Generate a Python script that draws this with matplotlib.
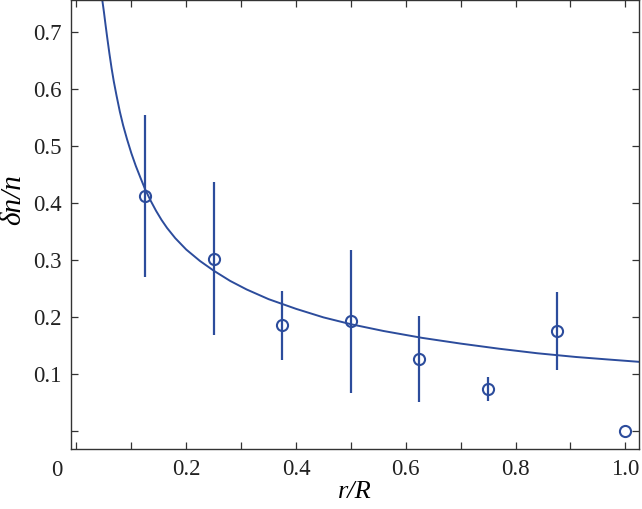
import matplotlib.pyplot as plt
from matplotlib.ticker import MultipleLocator
import matplotlib.transforms as mtransforms

# fit curve
curve_x = [0.047, 0.050, 0.053, 0.056, 0.060, 0.064, 0.068, 0.073, 0.079,
           0.085, 0.092, 0.100, 0.108, 0.117, 0.125, 0.135, 0.145, 0.155,
           0.165, 0.18, 0.20, 0.225, 0.25, 0.28, 0.31, 0.35, 0.40, 0.45,
           0.50, 0.56, 0.63, 0.70, 0.77, 0.84, 0.91, 0.97, 1.025]
curve_y = [0.756, 0.735, 0.712, 0.690, 0.662, 0.636, 0.613, 0.588, 0.560,
           0.536, 0.512, 0.487, 0.465, 0.443, 0.424, 0.404, 0.386, 0.370,
           0.356, 0.338, 0.318, 0.298, 0.281, 0.263, 0.248, 0.231, 0.214,
           0.199, 0.187, 0.175, 0.163, 0.153, 0.144, 0.136, 0.1295, 0.125,
           0.121]

# measured points with error bars
r_pts = [0.125, 0.25, 0.375, 0.5, 0.625, 0.75, 0.875, 1.0]
dn_pts = [0.412, 0.302, 0.185, 0.192, 0.126, 0.074, 0.175, 0.0]
dn_err = [0.142, 0.134, 0.060, 0.125, 0.076, 0.021, 0.068, 0.0]

x_ticks = [0.2, 0.4, 0.6, 0.8, 1.0]
x_ticklabels = ["0.2", "0.4", "0.6", "0.8", "1.0"]
y_ticks = [0.1, 0.2, 0.3, 0.4, 0.5, 0.6, 0.7]
y_ticklabels = ["0.1", "0.2", "0.3", "0.4", "0.5", "0.6", "0.7"]

BLUE = "#2c4c9c"
plt.rcParams["font.family"] = ["Liberation Serif", "DejaVu Serif"]

fig = plt.figure(figsize=(6.42, 5.09), dpi=100)
ax = fig.add_axes([71 / 642, 1 - 449 / 509, 568 / 642, 449 / 509])

ax.plot(curve_x, curve_y, color=BLUE, lw=1.4, zorder=2)
ax.errorbar(r_pts, dn_pts, yerr=dn_err, fmt="o", ms=8, mfc="none",
            mec=BLUE, mew=1.5, ecolor=BLUE, elinewidth=1.6, capsize=0,
            zorder=3)

ax.set_xlim(-0.01, 1.025)
ax.set_ylim(-0.032, 0.756)

ax.set_xticks(x_ticks)
ax.set_xticklabels(x_ticklabels)
ax.xaxis.set_minor_locator(MultipleLocator(0.1))
ax.set_yticks(y_ticks)
ax.set_yticklabels(y_ticklabels)
ax.yaxis.set_minor_locator(MultipleLocator(0.1))

for which in ("major", "minor"):
    ax.tick_params(which=which, direction="in", length=5, width=0.9,
                   top=True, right=True, color="#333333")
ax.tick_params(which="major", labelsize=16.5, pad=7, labelcolor="#222222")

for sp in ax.spines.values():
    sp.set_linewidth(1.0)
    sp.set_color("#333333")

# origin label sits left of the first tick
trans = mtransforms.blended_transform_factory(ax.transData, ax.transAxes)
ax.text(-0.036, -0.047, "0", transform=trans, ha="center", va="center",
        fontsize=16.5, color="#222222")

ax.set_xlabel("r/R", fontsize=19, style="italic", labelpad=1)
ax.set_ylabel("δn/n", fontsize=21, style="italic", va="center")
ax.yaxis.set_label_coords(-0.102, 0.555)

fig.savefig("out.png", dpi=100)
